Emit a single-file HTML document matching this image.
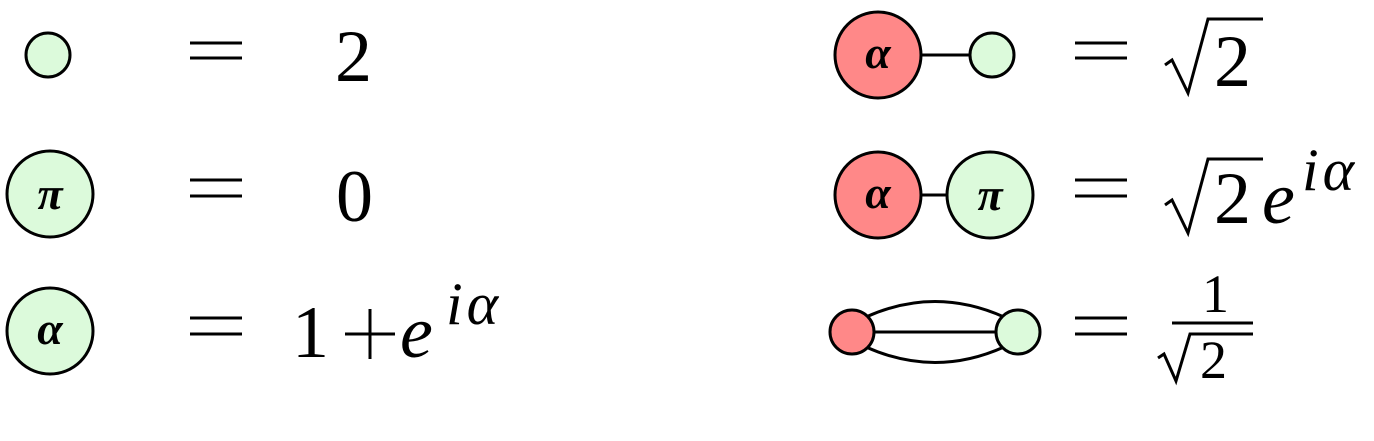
<!DOCTYPE html>
<html><head><meta charset="utf-8"><style>
html,body{margin:0;padding:0;background:#fff;width:1374px;height:441px;overflow:hidden}
svg{display:block}
text{font-family:"Liberation Serif","DejaVu Serif","Noto Serif CJK SC",serif;fill:#000}
.n{font-size:74px}
.sup{font-size:60px;font-style:italic;letter-spacing:4px}
.it{font-style:italic}
.lbl{font-size:46px;font-weight:bold;font-style:italic;text-anchor:middle}
</style></head><body>
<svg width="1374" height="441" viewBox="0 0 1374 441">
<g stroke="#000" stroke-width="3">
  <circle cx="48" cy="55" r="22" fill="#dcfadb"/>
  <circle cx="50" cy="194" r="43" fill="#dcfadb"/>
  <circle cx="50" cy="331" r="43" fill="#dcfadb"/>
  <line x1="921" y1="55" x2="970" y2="55"/>
  <circle cx="878" cy="55" r="43" fill="#ff8888"/>
  <circle cx="992" cy="55" r="22" fill="#dcfadb"/>
  <line x1="921" y1="195" x2="947" y2="195"/>
  <circle cx="878" cy="195" r="43" fill="#ff8888"/>
  <circle cx="990" cy="195" r="43" fill="#dcfadb"/>
  <g fill="none">
    <line x1="852" y1="332" x2="1018" y2="332"/>
    <path d="M866,317 Q935,286 1004,317"/>
    <path d="M866,347 Q935,378 1004,347"/>
  </g>
  <circle cx="852" cy="332" r="22" fill="#ff8888"/>
  <circle cx="1018" cy="332" r="22" fill="#dcfadb"/>
</g>
<text class="lbl" x="50" y="209">π</text>
<text class="lbl" x="50" y="344">α</text>
<text class="lbl" x="878" y="68">α</text>
<text class="lbl" x="878" y="208">α</text>
<text class="lbl" x="990" y="210">π</text>

<g stroke="#000" stroke-width="3">
  <line x1="190" y1="43" x2="242" y2="43"/><line x1="190" y1="58" x2="242" y2="58"/>
  <line x1="190" y1="180" x2="242" y2="180"/><line x1="190" y1="196" x2="242" y2="196"/>
  <line x1="190" y1="318" x2="242" y2="318"/><line x1="190" y1="334" x2="242" y2="334"/>
  <line x1="1075" y1="43" x2="1127" y2="43"/><line x1="1075" y1="58" x2="1127" y2="58"/>
  <line x1="1075" y1="180" x2="1127" y2="180"/><line x1="1075" y1="196" x2="1127" y2="196"/>
  <line x1="1075" y1="318" x2="1127" y2="318"/><line x1="1075" y1="334" x2="1127" y2="334"/>
</g>

<text class="n" x="335" y="81">2</text>
<text class="n" x="336" y="221">0</text>
<g>
  <text class="n" x="292" y="357">1</text>
  <g stroke="#000" stroke-width="3"><line x1="345" y1="334" x2="395" y2="334"/><line x1="370" y1="309" x2="370" y2="359"/></g>
  <text class="n it" x="400" y="357">e</text>
  <text class="sup" x="446" y="324">iα</text>
</g>

<g fill="none" stroke="#000" stroke-width="3" stroke-linejoin="miter">
  <path d="M1165,65 L1172,60 L1188,93 L1208,19 L1263,19"/>
  <path d="M1165,205 L1172,200 L1188,233 L1208,159 L1263,159"/>
  <path d="M1158,358 L1164,354 L1176,381 L1190,334 L1253,334"/>
  <line x1="1172" y1="323" x2="1253" y2="323"/>
</g>
<text class="n" x="1214" y="86">2</text>
<g>
  <text class="n" x="1214" y="223">2</text>
  <text class="n it" x="1262" y="223">e</text>
  <text class="sup" x="1302" y="190">iα</text>
</g>
<g>
  <text x="1202" y="312" style="font-size:54px">1</text>
  <text x="1200" y="378" style="font-size:54px">2</text>
</g>
</svg>
</body></html>
